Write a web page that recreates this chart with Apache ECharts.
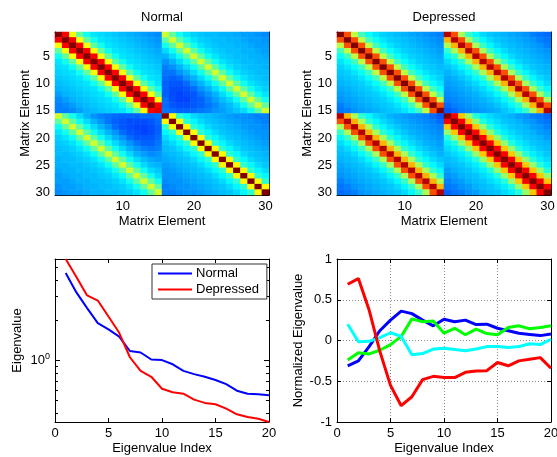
<!DOCTYPE html>
<html>
<head>
<meta charset="utf-8">
<script src="https://cdn.jsdelivr.net/npm/echarts@6/dist/echarts.min.js"></script>
<style>
html,body{margin:0;padding:0;background:#fff;}
#chart{width:557px;height:457px;}
</style>
</head>
<body>
<div id="chart"></div>
<script>
// Matrix element labels (1..30)
const elementLabels = ['1','2','3','4','5','6','7','8','9','10','11','12','13','14','15',
  '16','17','18','19','20','21','22','23','24','25','26','27','28','29','30'];

// Correlation matrices, values on a 0..100 colour scale (row = matrix row)
const normalMatrix = [
  [100,88,62,47,39,35,34,33,32,31,30,29,28,27,26, 58,47,39,35,33,32,31,31,30,30,29,28,28,27,26],
  [88,100,88,62,47,39,35,34,33,32,31,30,29,28,27, 47,58,47,39,35,33,32,31,31,30,30,29,28,28,27],
  [62,88,100,88,62,47,39,35,34,33,32,31,30,29,28, 39,47,58,47,39,35,33,32,31,31,30,30,29,28,28],
  [47,62,88,100,88,62,47,39,35,34,33,32,31,30,29, 34,39,47,58,47,39,35,33,32,31,31,30,30,29,28],
  [39,47,62,88,100,88,62,47,39,35,34,33,32,31,30, 30,34,39,47,58,47,39,35,33,32,31,31,30,30,29],
  [35,39,47,62,88,100,88,62,47,39,35,34,33,32,31, 27,30,34,39,47,58,47,39,35,33,32,31,31,30,30],
  [34,35,39,47,62,88,100,88,62,47,39,35,34,33,32, 25,27,30,34,39,47,58,47,39,35,33,32,31,31,30],
  [33,34,35,39,47,62,88,100,88,62,47,39,35,34,33, 24,24,27,30,34,39,47,58,47,39,35,33,32,31,31],
  [32,33,34,35,39,47,62,88,100,88,62,47,39,35,34, 23,22,23,27,30,34,39,47,58,47,39,35,33,32,31],
  [31,32,33,34,35,39,47,62,88,100,88,62,47,39,35, 22,21,21,23,27,30,34,39,47,58,47,39,35,33,32],
  [30,31,32,33,34,35,39,47,62,88,100,88,62,47,39, 22,20,20,21,23,27,30,34,39,47,58,47,39,35,33],
  [28,30,31,32,33,34,35,39,47,62,88,100,88,62,47, 22,20,19,20,21,24,27,30,34,39,47,58,47,39,35],
  [26,28,30,31,32,33,34,35,39,47,62,88,100,88,62, 23,20,19,19,21,22,25,28,31,34,39,47,58,47,39],
  [25,26,28,30,31,32,33,34,35,39,47,62,88,100,88, 23,21,20,20,21,22,24,26,29,31,34,39,47,58,47],
  [25,25,26,28,30,31,32,33,34,35,39,47,62,88,90, 24,23,22,22,23,24,25,27,28,30,32,34,39,47,58],
  [58,47,39,34,30,27,25,24,23,22,22,22,23,23,24, 100,63,42,37,34,32,31,30,29,28,27,27,26,25,25],
  [47,58,47,39,34,30,27,24,22,21,20,20,20,21,23, 63,100,63,42,37,34,32,31,30,29,28,27,27,26,25],
  [39,47,58,47,39,34,30,27,23,21,20,19,19,20,22, 42,63,100,63,42,37,34,32,31,30,29,28,27,27,26],
  [35,39,47,58,47,39,34,30,27,23,21,20,19,20,22, 37,42,63,100,63,42,37,34,32,31,30,29,28,27,27],
  [33,35,39,47,58,47,39,34,30,27,23,21,21,21,23, 34,37,42,63,100,63,42,37,34,32,31,30,29,28,27],
  [32,33,35,39,47,58,47,39,34,30,27,24,22,22,24, 32,34,37,42,63,100,63,42,37,34,32,31,30,29,28],
  [31,32,33,35,39,47,58,47,39,34,30,27,25,24,25, 31,32,34,37,42,63,100,63,42,37,34,32,31,30,29],
  [31,31,32,33,35,39,47,58,47,39,34,30,28,26,27, 30,31,32,34,37,42,63,100,63,42,37,34,32,31,30],
  [30,31,31,32,33,35,39,47,58,47,39,34,31,29,28, 29,30,31,32,34,37,42,63,100,63,42,37,34,32,31],
  [30,30,31,31,32,33,35,39,47,58,47,39,34,31,30, 28,29,30,31,32,34,37,42,63,100,63,42,37,34,32],
  [29,30,30,31,31,32,33,35,39,47,58,47,39,34,32, 27,28,29,30,31,32,34,37,42,63,100,63,42,37,34],
  [28,29,30,30,31,31,32,33,35,39,47,58,47,39,34, 27,27,28,29,30,31,32,34,37,42,63,100,63,42,37],
  [28,28,29,30,30,31,31,32,33,35,39,47,58,47,39, 26,27,27,28,29,30,31,32,34,37,42,63,100,63,42],
  [27,28,28,29,30,30,31,31,32,33,35,39,47,58,47, 25,26,27,27,28,29,30,31,32,34,37,42,63,100,63],
  [26,27,28,28,29,30,30,31,31,32,33,35,39,47,58, 25,25,26,27,27,28,29,30,31,32,34,37,42,63,100]
];

const depressedMatrix = [
  [100,80,56,44,38,35,33,32,31,30,29,28,27,26,25, 95,80,54,43,37,34,32,31,30,29,28,27,25,24,23],
  [80,100,80,56,44,38,35,33,32,31,30,29,28,27,26, 70,95,80,54,43,37,34,32,31,30,29,28,27,25,24],
  [56,80,100,80,56,44,38,35,33,32,31,30,29,28,27, 54,70,95,80,54,43,37,34,32,31,30,29,28,27,25],
  [44,56,80,100,80,56,44,38,35,33,32,31,30,29,28, 42,54,70,95,80,54,43,37,34,32,31,30,29,28,27],
  [38,44,56,80,100,80,56,44,38,35,33,32,31,30,29, 37,42,54,70,95,80,54,43,37,34,32,31,30,29,28],
  [35,38,44,56,80,100,80,56,44,38,35,33,32,31,30, 34,37,42,54,70,95,80,54,43,37,34,32,31,30,29],
  [33,35,38,44,56,80,100,80,56,44,38,35,33,32,31, 32,34,37,42,54,70,95,80,54,43,37,34,32,31,30],
  [32,33,35,38,44,56,80,100,80,56,44,38,35,33,32, 30,32,34,37,42,54,70,95,80,54,43,37,34,32,31],
  [31,32,33,35,38,44,56,80,100,80,56,44,38,35,33, 29,30,32,34,37,42,54,70,95,80,54,43,37,34,32],
  [30,31,32,33,35,38,44,56,80,100,80,56,44,38,35, 28,29,30,32,34,37,42,54,70,95,80,54,43,37,34],
  [29,30,31,32,33,35,38,44,56,80,100,80,56,44,38, 27,28,29,30,32,34,37,42,54,70,95,80,54,43,37],
  [28,29,30,31,32,33,35,38,44,56,80,100,80,56,44, 26,27,28,29,30,32,34,37,42,54,70,95,80,54,43],
  [27,28,29,30,31,32,33,35,38,44,56,80,100,80,56, 25,26,27,28,29,30,32,34,37,42,54,70,95,80,54],
  [25,27,28,29,30,31,32,33,35,38,44,56,80,100,80, 23,25,26,27,28,29,30,32,34,37,42,54,70,95,80],
  [24,25,27,28,29,30,31,32,33,35,38,44,56,80,100, 21,23,25,26,27,28,29,30,32,34,37,42,54,70,95],
  [95,70,54,42,37,34,32,30,29,28,27,26,25,23,21, 100,88,68,52,41,36,34,32,31,30,28,27,25,24,22],
  [80,95,70,54,42,37,34,32,30,29,28,27,26,25,23, 88,100,88,68,52,41,36,34,32,31,30,28,27,25,24],
  [54,80,95,70,54,42,37,34,32,30,29,28,27,26,25, 68,88,100,88,68,52,41,36,34,32,31,30,28,27,25],
  [43,54,80,95,70,54,42,37,34,32,30,29,28,27,26, 52,68,88,100,88,68,52,41,36,34,32,31,30,28,27],
  [37,43,54,80,95,70,54,42,37,34,32,30,29,28,27, 41,52,68,88,100,88,68,52,41,36,34,32,31,30,28],
  [34,37,43,54,80,95,70,54,42,37,34,32,30,29,28, 36,41,52,68,88,100,88,68,52,41,36,34,32,31,30],
  [32,34,37,43,54,80,95,70,54,42,37,34,32,30,29, 34,36,41,52,68,88,100,88,68,52,41,36,34,32,31],
  [31,32,34,37,43,54,80,95,70,54,42,37,34,32,30, 32,34,36,41,52,68,88,100,88,68,52,41,36,34,32],
  [30,31,32,34,37,43,54,80,95,70,54,42,37,34,32, 31,32,34,36,41,52,68,88,100,88,68,52,41,36,34],
  [29,30,31,32,34,37,43,54,80,95,70,54,42,37,34, 30,31,32,34,36,41,52,68,88,100,88,68,52,41,36],
  [28,29,30,31,32,34,37,43,54,80,95,70,54,42,37, 28,30,31,32,34,36,41,52,68,88,100,88,68,52,41],
  [27,28,29,30,31,32,34,37,43,54,80,95,70,54,42, 27,28,30,31,32,34,36,41,52,68,88,100,88,68,52],
  [25,27,28,29,30,31,32,34,37,43,54,80,95,70,54, 25,27,28,30,31,32,34,36,41,52,68,88,100,88,68],
  [24,25,27,28,29,30,31,32,34,37,43,54,80,95,70, 24,25,27,28,30,31,32,34,36,41,52,68,88,100,88],
  [23,24,25,27,28,29,30,31,32,34,37,43,54,80,95, 22,24,25,27,28,30,31,32,34,36,41,52,68,88,100]
];

// Eigenvalue spectra
const eigIndex = [1,2,3,4,5,6,7,8,9,10,11,12,13,14,15,16,17,18,19,20];
const normalEig = [4.48,3.21,2.45,1.89,1.70,1.50,1.17,1.14,1.01,1.00,0.93,0.83,0.785,0.75,0.71,0.66,0.59,0.56,0.555,0.545];
const depressedEig = [5.71,4.19,3.05,2.79,2.12,1.60,1.05,0.83,0.75,0.61,0.575,0.56,0.506,0.478,0.467,0.433,0.393,0.375,0.364,0.344];

// Normalized eigenvalue components
const normBlue  = [-0.31,-0.25,-0.075,0.12,0.25,0.36,0.33,0.25,0.18,0.26,0.23,0.25,0.195,0.20,0.15,0.12,0.09,0.075,0.06,0.08];
const normGreen = [-0.24,-0.15,-0.165,-0.12,-0.05,0.05,0.265,0.23,0.24,0.09,0.15,0.07,0.14,0.085,0.07,0.16,0.18,0.145,0.16,0.18];
const normCyan  = [0.20,-0.015,-0.01,0.035,0.095,0.05,-0.175,-0.16,-0.105,-0.095,-0.11,-0.125,-0.105,-0.075,-0.075,-0.085,-0.075,-0.04,-0.05,0.015];
const normRed   = [0.69,0.76,0.375,-0.13,-0.55,-0.80,-0.69,-0.48,-0.44,-0.455,-0.455,-0.39,-0.375,-0.37,-0.27,-0.31,-0.25,-0.23,-0.21,-0.34];

// Minor tick values of the logarithmic axis
const logMinorTicks = [0.4,0.5,0.6,0.7,0.8,0.9,2,3,4,5];

const FONT = '"Liberation Sans", Arial, Helvetica, sans-serif';
const JET = ['#00008f','#0000ff','#0080ff','#00ffff','#80ff80','#ffff00','#ff8000','#ff0000','#800000'];

const txt = { color: '#000', fontFamily: FONT, fontSize: 13 };
const black = { color: '#000', width: 1 };

const heatData = m => m.flatMap((row, r) => row.map((v, c) => [c, r, v]));
const pairs = ys => eigIndex.map((x, i) => [x, ys[i]]);

const every = n => (i) => (i + 1) % n === 0;

function catX(grid, pos, showLabel) {
  const o = {
    type: 'category', gridIndex: grid, data: elementLabels, position: pos,
    axisLine: { show: true, onZero: false, lineStyle: black },
    axisTick: { show: true, inside: true, length: 4, alignWithLabel: true, interval: every(10), lineStyle: black },
    axisLabel: { show: showLabel, interval: every(10), margin: 5, ...txt },
    splitLine: { show: false }
  };
  if (showLabel) Object.assign(o, { name: 'Matrix Element', nameLocation: 'middle', nameGap: 20, nameTextStyle: txt });
  return o;
}
function catY(grid, pos, showLabel) {
  const o = {
    type: 'category', gridIndex: grid, data: elementLabels, position: pos, inverse: true,
    axisLine: { show: true, onZero: false, lineStyle: black },
    axisTick: { show: true, inside: true, length: 4, alignWithLabel: true, interval: every(5), lineStyle: black },
    axisLabel: { show: showLabel, interval: every(5), margin: 5, ...txt },
    splitLine: { show: false }
  };
  if (showLabel) Object.assign(o, { name: 'Matrix Element', nameLocation: 'middle', nameGap: 20, nameTextStyle: txt });
  return o;
}
function idxX(grid, pos, showLabel, gridLines) {
  const o = {
    type: 'value', gridIndex: grid, position: pos, min: 0, max: 20, interval: 5,
    axisLine: { show: true, onZero: false, lineStyle: black },
    axisTick: { show: true, inside: true, length: 4, lineStyle: black },
    axisLabel: { show: showLabel, margin: 5, ...txt },
    splitLine: { show: gridLines, lineStyle: { color: '#888', width: 1, type: [1, 2] } }
  };
  if (showLabel) Object.assign(o, { name: 'Eigenvalue Index', nameLocation: 'middle', nameGap: 20, nameTextStyle: txt });
  return o;
}

const eigAll = normalEig.concat(depressedEig);
const logMin = Math.min(...eigAll);
const logMax = Math.max(...eigAll);

function logY(pos, showLabel) {
  const o = {
    type: 'log', logBase: 10, gridIndex: 2, position: pos, min: logMin, max: logMax,
    axisLine: { show: true, onZero: false, lineStyle: black },
    axisTick: { show: true, inside: true, length: 5, lineStyle: black },
    axisLabel: {
      show: showLabel, margin: 5, showMinLabel: false, showMaxLabel: false,
      formatter: v => Math.abs(v - 1) < 1e-9 ? '{b|10}{s|0}' : '',
      rich: {
        b: { fontSize: 13, fontFamily: FONT, color: '#000', lineHeight: 16 },
        s: { fontSize: 9, fontFamily: FONT, color: '#000', verticalAlign: 'top', lineHeight: 16, padding: [0, 0, 6, 0] }
      }
    },
    splitLine: { show: false }
  };
  if (showLabel) Object.assign(o, { name: 'Eigenvalue', nameLocation: 'middle', nameGap: 31, nameTextStyle: txt });
  return o;
}
function normY(pos, showLabel) {
  const o = {
    type: 'value', gridIndex: 3, position: pos, min: -1, max: 1, interval: 0.5,
    axisLine: { show: true, onZero: false, lineStyle: black },
    axisTick: { show: true, inside: true, length: 4, lineStyle: black },
    axisLabel: { show: showLabel, margin: 5, ...txt },
    splitLine: { show: showLabel, lineStyle: { color: '#888', width: 1, type: [1, 2] } }
  };
  if (showLabel) Object.assign(o, { name: 'Normalized Eigenvalue', nameLocation: 'middle', nameGap: 32, nameTextStyle: txt });
  return o;
}

const chart = echarts.init(document.getElementById('chart'), null, { renderer: 'canvas' });

const option = {
  animation: false,
  backgroundColor: '#fff',
  textStyle: { fontFamily: FONT },
  grid: [
    { left: 55, top: 32, width: 214, height: 163, outerBoundsMode: 'none' },
    { left: 337, top: 32, width: 214, height: 163, outerBoundsMode: 'none' },
    { left: 55, top: 259, width: 214, height: 163, outerBoundsMode: 'none' },
    { left: 337, top: 259, width: 214, height: 163, outerBoundsMode: 'none' }
  ],
  xAxis: [
    catX(0, 'bottom', true), catX(0, 'top', false),
    catX(1, 'bottom', true), catX(1, 'top', false),
    idxX(2, 'bottom', true, false), idxX(2, 'top', false, false),
    idxX(3, 'bottom', true, true), idxX(3, 'top', false, false)
  ],
  yAxis: [
    catY(0, 'left', true), catY(0, 'right', false),
    catY(1, 'left', true), catY(1, 'right', false),
    logY('left', true), logY('right', false),
    normY('left', true), normY('right', false)
  ],
  visualMap: {
    show: false, type: 'continuous', seriesIndex: [0, 1], min: 0, max: 100,
    inRange: { color: JET }
  },
  legend: {
    data: ['Normal', 'Depressed'],
    left: 152, top: 264, orient: 'vertical',
    icon: 'rect', itemWidth: 34, itemHeight: 2, itemGap: 3,
    padding: [3, 8, 3, 6],
    backgroundColor: '#fff', borderColor: '#333', borderWidth: 1,
    textStyle: { ...txt, padding: [0, 0, 0, -1] },
    selectedMode: false
  },
  graphic: [
    { type: 'text', x: 162, y: 17, style: { text: 'Normal', fill: '#000', font: '13px ' + FONT, textAlign: 'center', textVerticalAlign: 'middle' } },
    { type: 'text', x: 444, y: 17, style: { text: 'Depressed', fill: '#000', font: '13px ' + FONT, textAlign: 'center', textVerticalAlign: 'middle' } }
  ],
  series: [
    { type: 'heatmap', xAxisIndex: 0, yAxisIndex: 0, data: heatData(normalMatrix), progressive: 0, emphasis: { disabled: true } },
    { type: 'heatmap', xAxisIndex: 2, yAxisIndex: 2, data: heatData(depressedMatrix), progressive: 0, emphasis: { disabled: true } },
    { type: 'line', name: 'Normal', xAxisIndex: 4, yAxisIndex: 4, data: pairs(normalEig), symbol: 'none',
      lineStyle: { color: '#0000ff', width: 2 }, itemStyle: { color: '#0000ff' } },
    { type: 'line', name: 'Depressed', xAxisIndex: 4, yAxisIndex: 4, data: pairs(depressedEig), symbol: 'none',
      lineStyle: { color: '#ff0000', width: 2 }, itemStyle: { color: '#ff0000' } },
    {
      type: 'custom', xAxisIndex: 4, yAxisIndex: 4, silent: true,
      data: logMinorTicks.map(v => [0, v]),
      renderItem: (params, api) => {
        const v = api.value(1);
        const l = api.coord([0, v]);
        const r = api.coord([20, v]);
        const y = Math.round(l[1]) + 0.5;
        return { type: 'group', children: [
          { type: 'line', shape: { x1: l[0], y1: y, x2: l[0] + 3, y2: y }, style: { stroke: '#000', lineWidth: 1 } },
          { type: 'line', shape: { x1: r[0] - 3, y1: y, x2: r[0], y2: y }, style: { stroke: '#000', lineWidth: 1 } }
        ] };
      }
    },
    { type: 'line', name: 'c1', xAxisIndex: 6, yAxisIndex: 6, data: pairs(normBlue), symbol: 'none', lineStyle: { color: '#0000ff', width: 3 } },
    { type: 'line', name: 'c2', xAxisIndex: 6, yAxisIndex: 6, data: pairs(normGreen), symbol: 'none', lineStyle: { color: '#00ff00', width: 3 } },
    { type: 'line', name: 'c3', xAxisIndex: 6, yAxisIndex: 6, data: pairs(normCyan), symbol: 'none', lineStyle: { color: '#00ffff', width: 3 } },
    { type: 'line', name: 'c4', xAxisIndex: 6, yAxisIndex: 6, data: pairs(normRed), symbol: 'none', lineStyle: { color: '#ff0000', width: 3 } }
  ]
};

chart.setOption(option);
</script>
</body>
</html>
